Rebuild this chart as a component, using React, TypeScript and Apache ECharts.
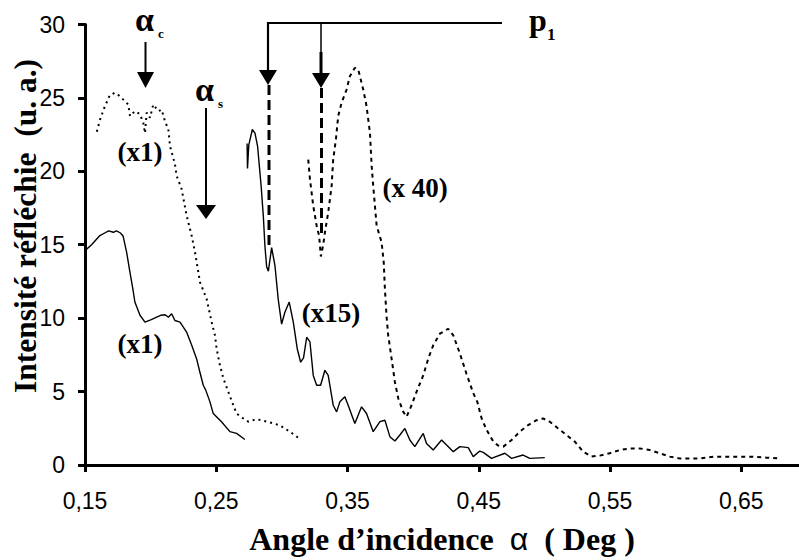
import React, { useEffect, useRef } from "react";
import * as echarts from "echarts";

// ---- Data ----
const X_TICKS = [0.15, 0.25, 0.35, 0.45, 0.55, 0.65];

// (x1) solid, lower curve
const angleX1Solid = [0.150, 0.155, 0.161, 0.165, 0.168, 0.1716, 0.174, 0.177, 0.179, 0.1817, 0.1843, 0.1868, 0.188, 0.1919, 0.1957, 0.2005, 0.2046, 0.208, 0.211, 0.2135, 0.216, 0.2185, 0.2224, 0.2274, 0.2313, 0.235, 0.2376, 0.2401, 0.242, 0.2452, 0.2477, 0.254, 0.2604, 0.2655, 0.2718];
const intX1Solid = [14.6, 15.0, 15.6, 15.8, 15.95, 15.85, 15.95, 15.8, 15.6, 14.5, 13.1, 11.8, 11.1, 10.2, 9.73, 9.9, 10.07, 10.2, 10.23, 10.07, 10.3, 9.84, 9.73, 9.05, 8.15, 7.24, 6.3, 5.43, 5.1, 4.3, 3.5, 2.95, 2.27, 2.15, 1.74];

// (x1) dotted, upper curve
const angleX1Dot = [0.159, 0.1614, 0.165, 0.169, 0.1728, 0.1754, 0.179, 0.183, 0.1843, 0.188, 0.1919, 0.1944, 0.1957, 0.197, 0.1995, 0.202, 0.206, 0.2084, 0.211, 0.2135, 0.2148, 0.2185, 0.2198, 0.2236, 0.2274, 0.2313, 0.2338, 0.2364, 0.2376, 0.2427, 0.2465, 0.249, 0.2503, 0.2528, 0.2554, 0.2592, 0.263, 0.2655, 0.2706, 0.2744, 0.2808, 0.2909, 0.2985, 0.3061, 0.3132];
const intX1Dot = [22.7, 23.5, 24.4, 25.2, 25.35, 25.2, 24.9, 24.55, 23.76, 24.1, 23.9, 23.3, 22.6, 24.0, 23.65, 24.55, 24.1, 24.2, 23.4, 22.86, 21.7, 20.5, 19.7, 18.8, 17.0, 15.6, 14.5, 13.1, 12.45, 11.3, 9.73, 8.83, 7.92, 6.8, 5.9, 4.98, 4.07, 3.5, 3.17, 2.95, 3.12, 2.9, 2.7, 2.27, 1.81];

// (x15) solid
const angleX15 = [0.2735, 0.2738, 0.2748, 0.2775, 0.2795, 0.2815, 0.2842, 0.2859, 0.2871, 0.2884, 0.2897, 0.2922, 0.2947, 0.2972, 0.2998, 0.3023, 0.3056, 0.3087, 0.3117, 0.3143, 0.3165, 0.3189, 0.3214, 0.3239, 0.3265, 0.3295, 0.3328, 0.3353, 0.3391, 0.3417, 0.3442, 0.348, 0.3505, 0.3556, 0.3607, 0.3645, 0.3696, 0.3747, 0.3785, 0.3823, 0.3861, 0.3899, 0.3937, 0.3975, 0.4013, 0.4077, 0.4102, 0.4153, 0.4217, 0.4255, 0.4306, 0.4356, 0.442, 0.4458, 0.4508, 0.4534, 0.4597, 0.4699, 0.475, 0.4838, 0.4889, 0.5003];
const intX15 = [21.9, 20.2, 21.8, 22.85, 22.6, 21.7, 19.0, 16.9, 14.9, 13.5, 13.2, 14.8, 13.6, 11.3, 9.6, 10.4, 11.1, 9.73, 7.92, 7.0, 7.3, 8.7, 8.38, 6.1, 5.43, 5.43, 6.45, 6.1, 4.07, 3.62, 4.3, 4.64, 4.07, 2.83, 3.96, 3.51, 2.27, 2.95, 3.05, 1.93, 1.63, 2.04, 2.49, 1.7, 1.25, 2.15, 1.47, 1.02, 1.7, 1.36, 0.91, 1.25, 1.18, 0.57, 0.95, 0.86, 0.45, 0.8, 0.45, 0.68, 0.45, 0.5];

// (x 40) dotted
const angleX40 = [0.3201, 0.3214, 0.3239, 0.3265, 0.3284, 0.3297, 0.3315, 0.3328, 0.3353, 0.3379, 0.3391, 0.3412, 0.3429, 0.3455, 0.3493, 0.3518, 0.3556, 0.3582, 0.362, 0.3645, 0.3671, 0.3684, 0.3696, 0.3709, 0.3722, 0.376, 0.3776, 0.3785, 0.3797, 0.381, 0.3836, 0.3861, 0.3887, 0.3925, 0.395, 0.3988, 0.4026, 0.4077, 0.4115, 0.4153, 0.4204, 0.4267, 0.4306, 0.4356, 0.4407, 0.4458, 0.4489, 0.4522, 0.456, 0.4611, 0.4649, 0.4687, 0.475, 0.4813, 0.4877, 0.494, 0.499, 0.5041, 0.5105, 0.5168, 0.5232, 0.5295, 0.5359, 0.5422, 0.5498, 0.5575, 0.5651, 0.5727, 0.5803, 0.5879, 0.5955, 0.6032, 0.6184, 0.6298, 0.6438, 0.659, 0.6692, 0.678];
const intX40 = [20.8, 19.46, 17.65, 16.3, 15.6, 14.2, 15.0, 15.84, 17.2, 19.0, 20.8, 22.2, 23.76, 24.67, 25.57, 26.48, 27.05, 26.93, 25.57, 24.44, 22.63, 20.37, 19.0, 17.65, 16.3, 15.17, 13.8, 12.0, 10.18, 8.83, 7.24, 5.66, 4.53, 3.62, 3.28, 4.07, 4.98, 6.1, 7.24, 8.15, 8.94, 9.28, 8.83, 7.6, 6.2, 4.9, 4.3, 3.17, 2.38, 1.59, 1.32, 1.25, 1.7, 2.27, 2.72, 3.05, 3.17, 2.95, 2.49, 2.04, 1.59, 0.91, 0.57, 0.64, 0.8, 1.02, 1.13, 1.13, 1.02, 0.8, 0.57, 0.45, 0.45, 0.57, 0.57, 0.57, 0.5, 0.45];

const zip = (xs: number[], ys: number[]) => xs.map((x, i) => [x, ys[i]]);

const SERIF = "'Liberation Serif', 'Times New Roman', serif";
const SANS = "'Liberation Sans', Arial, sans-serif";

const lineSeries = (name: string, data: number[][], width: number, type: any) => ({
  name,
  type: "line",
  data,
  showSymbol: false,
  symbol: "none",
  silent: true,
  lineStyle: { color: "#000", width, type },
});

const arrow = (x: number, y1: number, y2: number, headTop: number, tip: number, half: number, w = 2) => [
  { type: "line", shape: { x1: x, y1, x2: x, y2 }, style: { stroke: "#000", lineWidth: w } },
  { type: "polygon", shape: { points: [[x - half, headTop], [x + half, headTop], [x, tip]] }, style: { fill: "#000" } },
];

const boldText = (text: string, x: number, y: number, size: number, family = SERIF, align = "center") => ({
  type: "text",
  x,
  y,
  style: { text, fill: "#000", font: `bold ${size}px ${family}`, align, verticalAlign: "middle" },
});

export default function App() {
  const ref = useRef<HTMLDivElement>(null);
  useEffect(() => {
    if (!ref.current) return;
    const chart = echarts.init(ref.current, null, { renderer: "svg" });
    chart.setOption({
      animation: false,
      backgroundColor: "#fff",
      grid: { left: 85, right: 0, top: 24.5, bottom: 93.3, containLabel: false },
      xAxis: {
        type: "value",
        min: 0.15,
        max: 0.694,
        axisLine: { lineStyle: { color: "#000", width: 3 } },
        axisTick: { show: true, customValues: X_TICKS, length: 7, lineStyle: { color: "#000", width: 3 } },
        axisLabel: {
          customValues: X_TICKS,
          formatter: (v: number) => v.toFixed(2).replace(".", ","),
          fontFamily: SANS,
          fontSize: 23,
          color: "#000",
          margin: 24,
        },
        splitLine: { show: false },
        name: "{t|Angle d’incidence  }{a|α}{t|  ( Deg )}",
        nameLocation: "middle",
        nameGap: 58,
        nameTextStyle: {
          rich: {
            t: { fontFamily: SERIF, fontWeight: "bold", fontSize: 32, color: "#000" },
            a: { fontFamily: SANS, fontSize: 32, color: "#000" },
          },
        },
      },
      yAxis: {
        type: "value",
        min: 0,
        max: 30,
        interval: 5,
        axisLine: { show: true, lineStyle: { color: "#000", width: 3 } },
        axisTick: { show: true, length: 7, lineStyle: { color: "#000", width: 3 } },
        axisLabel: { fontFamily: SANS, fontSize: 23, color: "#000", margin: 20 },
        splitLine: { show: false },
      },
      series: [
        lineSeries("x1 solid", zip(angleX1Solid, intX1Solid), 1.4, "solid"),
        lineSeries("x1 dotted", zip(angleX1Dot, intX1Dot), 2, [2, 4]),
        lineSeries("x15", zip(angleX15, intX15), 1.4, "solid"),
        lineSeries("x40", zip(angleX40, intX40), 2, [4, 4]),
      ],
      graphic: [
        // y-axis title
        {
          type: "text",
          x: 25,
          y: 226,
          rotation: Math.PI / 2,
          style: {
            text: "Intensité réfléchie  (u. a.)",
            fill: "#000",
            font: `bold 31.5px ${SERIF}`,
            align: "center",
            verticalAlign: "middle",
          },
        },
        // curve labels
        boldText("(x1)", 140, 152, 27),
        boldText("(x1)", 140, 344, 27),
        boldText("(x15)", 331, 313, 27),
        boldText("(x 40)", 415, 188, 27),
        // alpha_c
        boldText("α", 135, 19, 34, SERIF, "left"),
        boldText("c", 158, 33, 13, SERIF, "left"),
        ...arrow(145.5, 42, 73, 72, 88, 8.5),
        // alpha_s
        boldText("α", 195, 89, 34, SERIF, "left"),
        boldText("s", 218, 103, 13, SERIF, "left"),
        ...arrow(206, 108, 206, 205, 219, 10),
        // p1 bracket
        { type: "polyline", shape: { points: [[268, 71], [268, 23], [502, 23]] }, style: { stroke: "#000", lineWidth: 2.2, fill: null } },
        { type: "polygon", shape: { points: [[259, 70], [277, 70], [268, 85]] }, style: { fill: "#000" } },
        { type: "line", shape: { x1: 321, y1: 23, x2: 321, y2: 74 }, style: { stroke: "#000", lineWidth: 1.5 } },
        { type: "line", shape: { x1: 321, y1: 52, x2: 321, y2: 74 }, style: { stroke: "#000", lineWidth: 3 } },
        { type: "polygon", shape: { points: [[312, 73], [330, 73], [321, 88]] }, style: { fill: "#000" } },
        { type: "line", shape: { x1: 269, y1: 85, x2: 269, y2: 247 }, style: { stroke: "#000", lineWidth: 3, lineDash: [10, 5] } },
        { type: "line", shape: { x1: 321.5, y1: 88, x2: 321.5, y2: 233 }, style: { stroke: "#000", lineWidth: 3, lineDash: [10, 5] } },
        boldText("p", 529, 20, 32, SERIF, "left"),
        boldText("1", 547, 34, 17, SERIF, "left"),
      ],
    });
    return () => chart.dispose();
  }, []);
  return <div ref={ref} style={{ position: "absolute", left: 0, top: 0, width: 799, height: 560 }} />;
}
